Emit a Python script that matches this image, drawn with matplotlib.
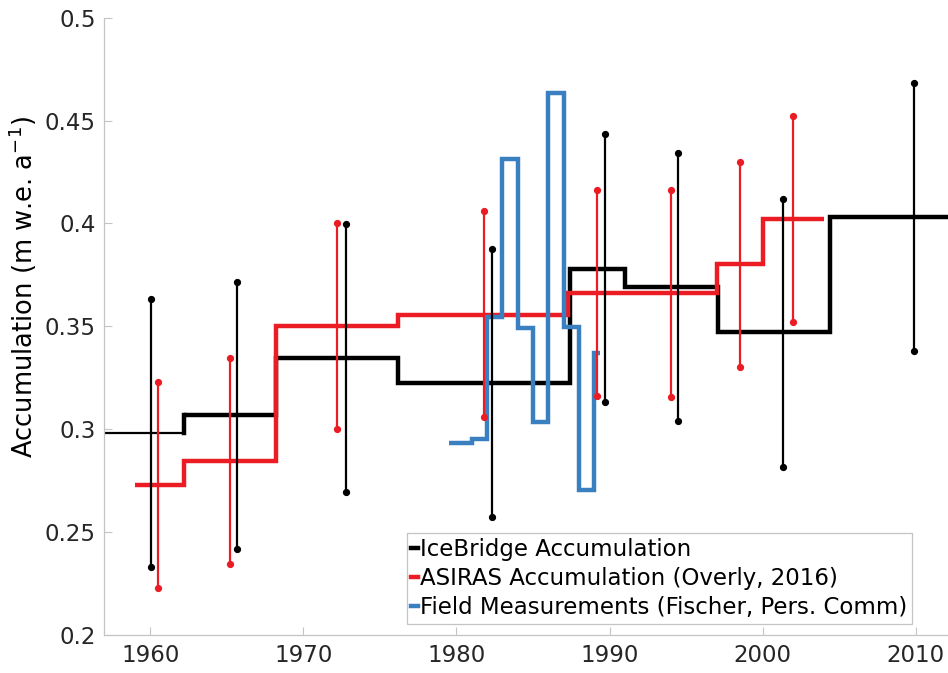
import matplotlib
matplotlib.use('Agg')
import matplotlib.pyplot as plt
from matplotlib.lines import Line2D

# IceBridge accumulation (step series) and its uncertainty bars
ib_edges = [1957.0, 1962.2, 1968.2, 1976.2, 1987.4, 1991.0, 1997.1, 2004.4, 2013.0]
ib_vals = [0.298, 0.3066, 0.3345, 0.3223, 0.378, 0.369, 0.347, 0.4032]
ib_bar_x = [1960.05, 1965.7, 1972.8, 1982.3, 1989.7, 1994.5, 2001.3, 2009.9]
ib_bar_lo = [0.2327, 0.2414, 0.2693, 0.257, 0.3132, 0.3038, 0.2813, 0.3379]
ib_bar_hi = [0.363, 0.3715, 0.3997, 0.3873, 0.4434, 0.434, 0.4118, 0.468]

# ASIRAS accumulation (Overly, 2016)
as_edges = [1959.0, 1962.2, 1968.2, 1976.2, 1987.3, 1997.0, 2000.0, 2004.0]
as_vals = [0.2727, 0.2844, 0.35, 0.3556, 0.366, 0.3802, 0.402]
as_bar_x = [1960.5, 1965.2, 1972.2, 1981.8, 1989.2, 1994.0, 1998.5, 2002.0]
as_bar_lo = [0.2225, 0.2341, 0.2999, 0.306, 0.316, 0.3157, 0.33, 0.3518]
as_bar_hi = [0.3227, 0.3343, 0.4003, 0.4061, 0.4162, 0.4162, 0.43, 0.4522]

# field measurements (Fischer, pers. comm.)
fm_edges = [1979.5, 1981.0, 1982.0, 1983.0, 1984.0, 1985.0, 1986.0, 1987.0, 1988.0, 1989.0, 1989.4]
fm_vals = [0.2933, 0.2949, 0.3543, 0.4313, 0.3489, 0.3032, 0.4632, 0.3497, 0.2703, 0.3368]

x_ticks = [1960, 1970, 1980, 1990, 2000, 2010]
y_ticks = [0.2, 0.25, 0.3, 0.35, 0.4, 0.45, 0.5]
y_ticklabels = ['0.2', '0.25', '0.3', '0.35', '0.4', '0.45', '0.5']

RED = '#ec1c24'
BLUE = '#3a80c0'
AXCOL = '#c4c4c4'
TXT = '#262626'

fig = plt.figure(figsize=(9.48, 6.73), dpi=100)
ax = fig.add_axes([0.110, 0.0572, 0.890, 0.9165])

# step lines
ax.stairs(ib_vals[:1], ib_edges[:2], baseline=None, color='black', lw=1.6)
ax.plot([ib_edges[1], ib_edges[1]], ib_vals[:2], color='black', lw=3.2, solid_capstyle='projecting')
ax.stairs(ib_vals[1:], ib_edges[1:], baseline=None, color='black', lw=3.2)
ax.stairs(as_vals, as_edges, baseline=None, color=RED, lw=3.2)
ax.stairs(fm_vals, fm_edges, baseline=None, color=BLUE, lw=3.2)

# uncertainty bars
ax.vlines(ib_bar_x, ib_bar_lo, ib_bar_hi, color='black', lw=1.6)
ax.plot(ib_bar_x, ib_bar_lo, 'o', color='black', ms=4.2)
ax.plot(ib_bar_x, ib_bar_hi, 'o', color='black', ms=4.2)
ax.vlines(as_bar_x, as_bar_lo, as_bar_hi, color=RED, lw=1.6)
ax.plot(as_bar_x, as_bar_lo, 'o', color=RED, ms=4.2)
ax.plot(as_bar_x, as_bar_hi, 'o', color=RED, ms=4.2)

ax.set_xlim(1957.0, 2012.1)
ax.set_ylim(0.2, 0.5)
ax.set_xticks(x_ticks)
ax.set_yticks(y_ticks)
ax.set_yticklabels(y_ticklabels)
ax.tick_params(direction='in', length=6, width=0.8, color=AXCOL,
               labelsize=16.5, labelcolor=TXT)
ax.tick_params(axis='y', pad=6)
ax.tick_params(axis='x', pad=7)
for side in ['top', 'right']:
    ax.spines[side].set_visible(False)
for side in ['left', 'bottom']:
    ax.spines[side].set_color(AXCOL)
    ax.spines[side].set_linewidth(0.9)

ax.set_ylabel('Accumulation (m w.e. a$^{-1}$)', fontsize=18.5, color='black')
ax.yaxis.set_label_coords(-0.077, 0.563)

handles = [Line2D([], [], color='black', lw=3.2),
           Line2D([], [], color=RED, lw=3.2),
           Line2D([], [], color=BLUE, lw=3.2)]
labels = ['IceBridge Accumulation',
          'ASIRAS Accumulation (Overly, 2016)',
          'Field Measurements (Fischer, Pers. Comm)']
leg = fig.legend(handles, labels, loc='upper left', bbox_to_anchor=(0.429, 0.2076),
                 fontsize=16.5, frameon=True, fancybox=False, framealpha=1,
                 handlelength=0.3, handletextpad=0.1, labelspacing=0.27,
                 borderpad=0.2, borderaxespad=0)
leg.get_frame().set_edgecolor(AXCOL)
leg.get_frame().set_linewidth(0.9)

fig.savefig('out.png', dpi=100)
